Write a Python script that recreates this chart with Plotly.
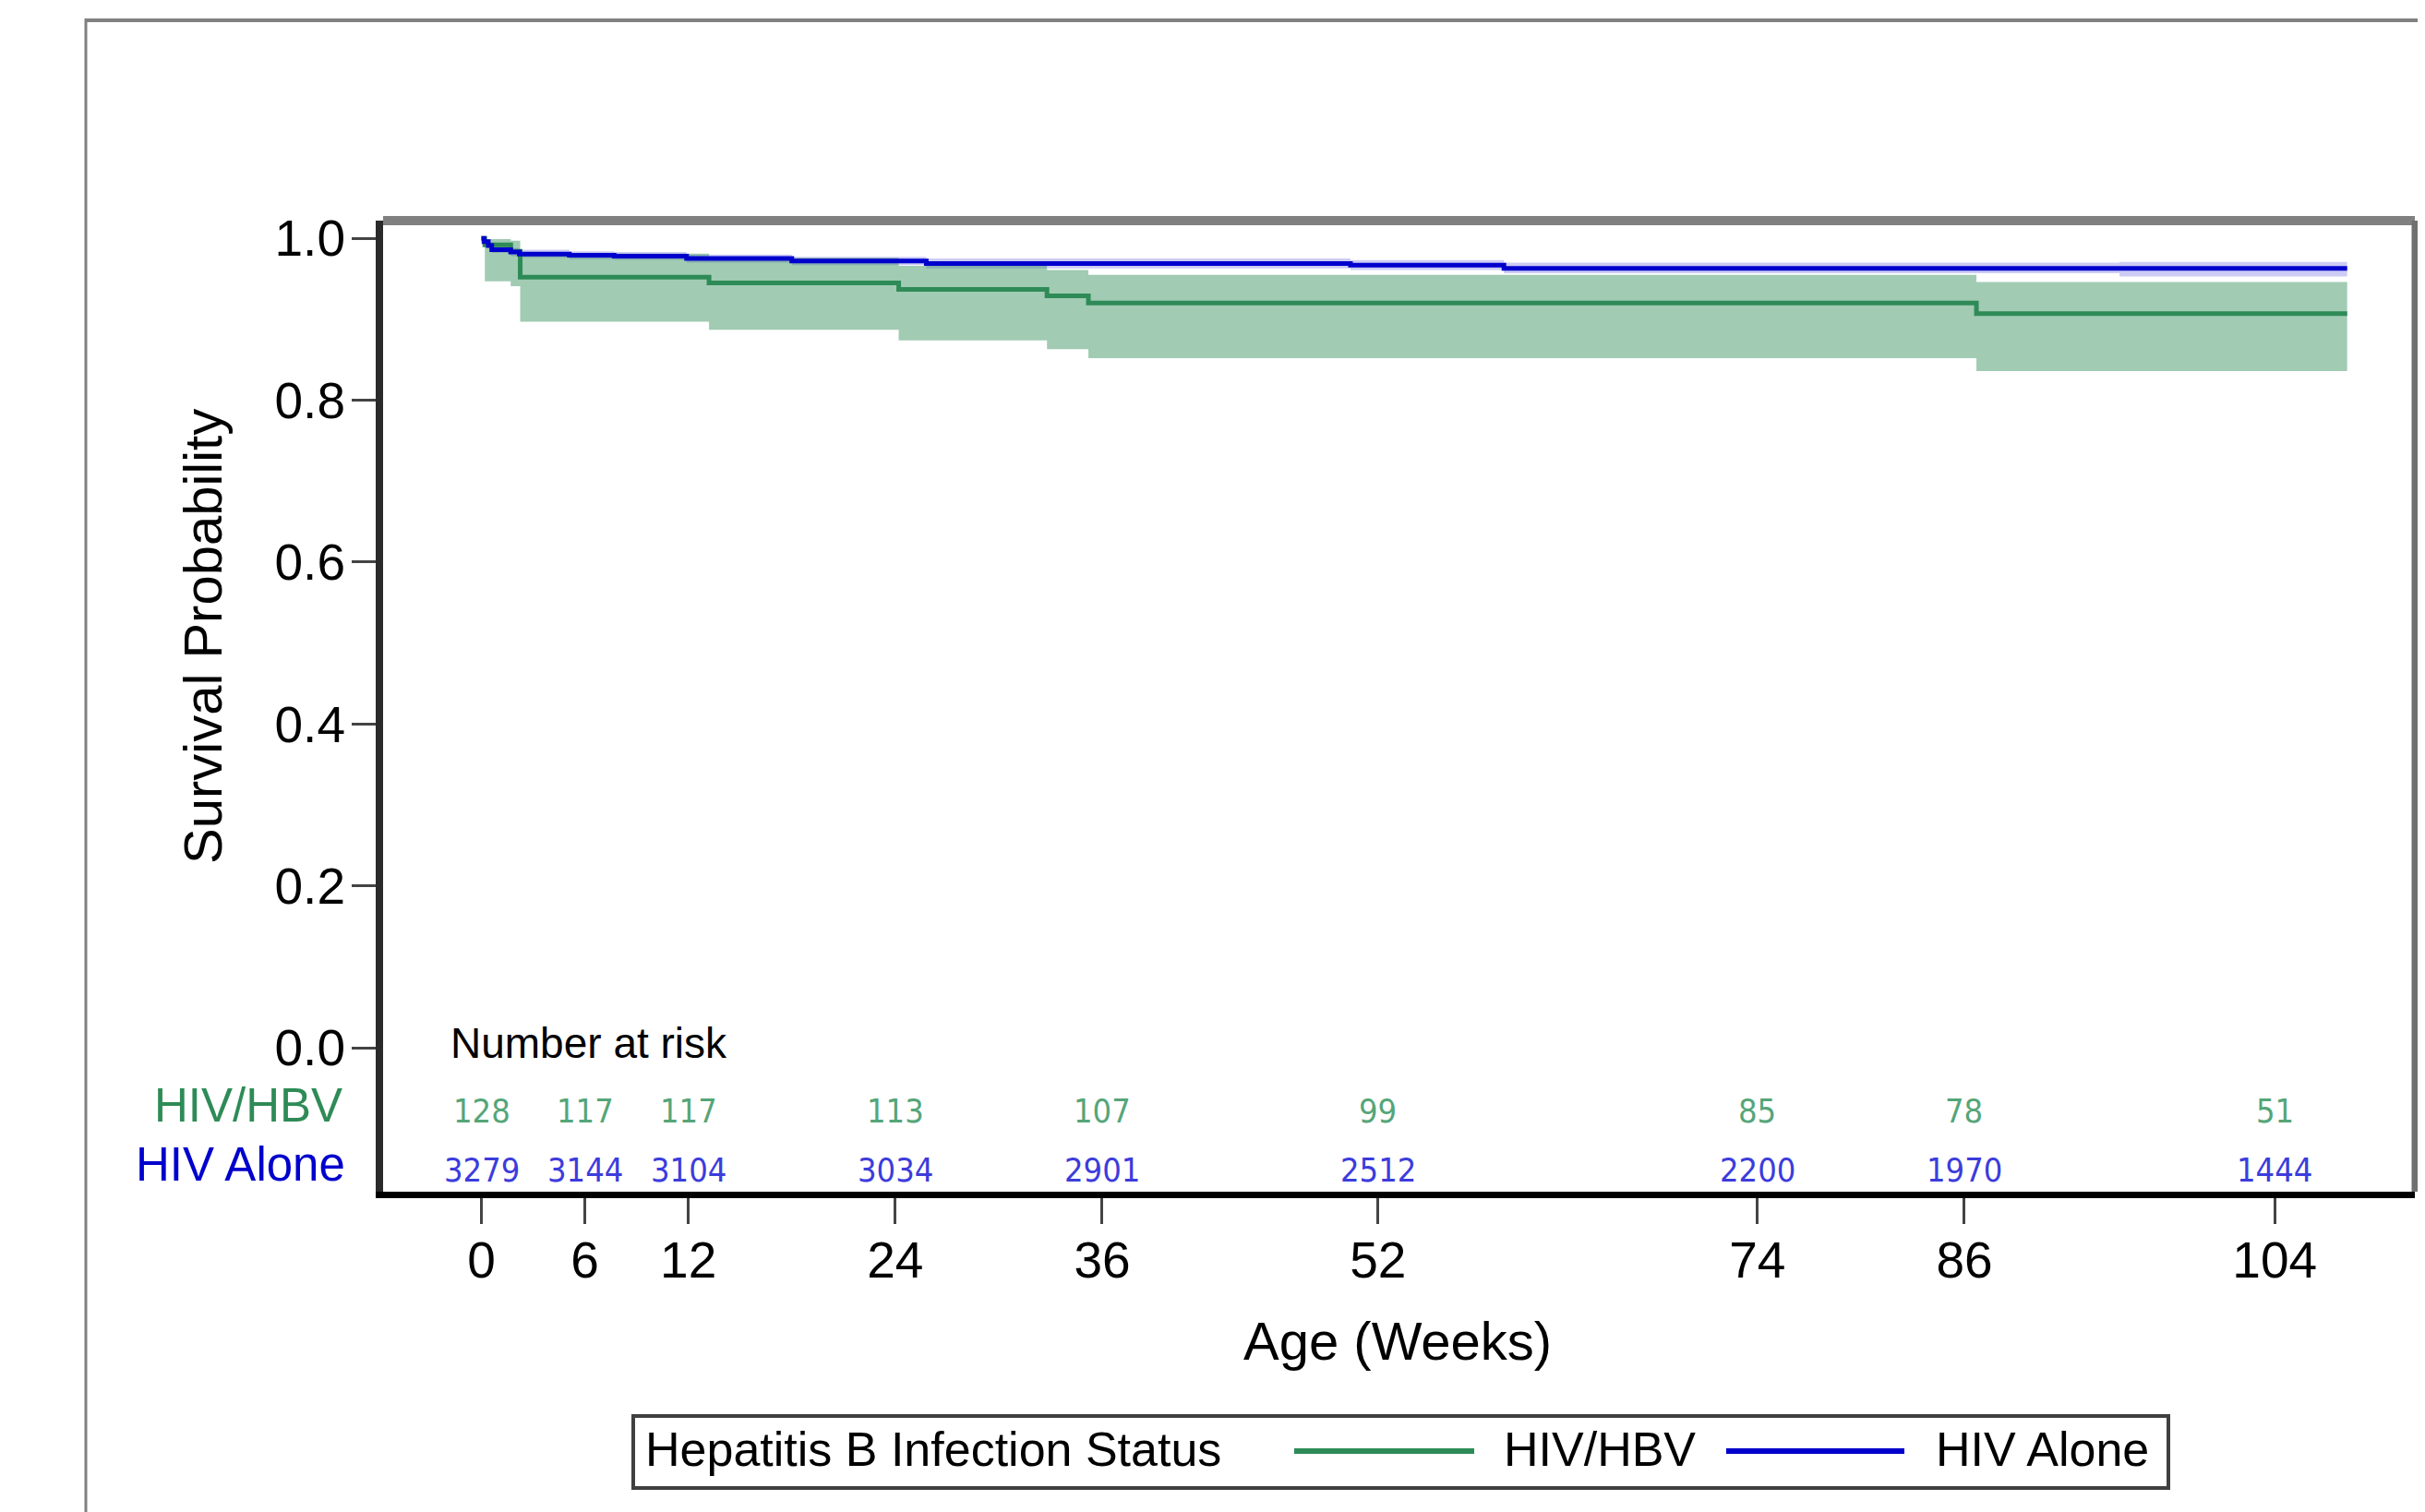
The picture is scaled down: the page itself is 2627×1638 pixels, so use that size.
import plotly.graph_objects as go

# ---------------- data ----------------
time_hbv = [0, 0.2, 1.7, 2.25, 13.2, 24.2, 32.8, 35.2, 86.7, 108.2]
surv_hbv = [1.0, 0.992, 0.984, 0.952, 0.945, 0.937, 0.929, 0.920, 0.907, 0.907]
lcl_hbv = [1.0, 0.947, 0.941, 0.897, 0.887, 0.874, 0.863, 0.852, 0.836, 0.836]
ucl_hbv = [1.0, 0.999, 0.997, 0.981, 0.976, 0.966, 0.961, 0.955, 0.946, 0.946]

time_alone = [0, 0.15, 0.4, 0.6, 1.7, 2.2, 5.1, 7.7, 11.9, 18.0, 25.8, 50.4, 59.3, 75.0, 95.0, 108.2]
surv_alone = [1.0, 0.996, 0.991, 0.986, 0.983, 0.9805, 0.979, 0.978, 0.975, 0.972, 0.969, 0.967, 0.963, 0.963, 0.963, 0.963]
ucl_alone = [1.0, 0.998, 0.994, 0.990, 0.988, 0.986, 0.984, 0.983, 0.980, 0.977, 0.975, 0.973, 0.970, 0.970, 0.971, 0.971]
lcl_alone = [1.0, 0.994, 0.988, 0.982, 0.978, 0.976, 0.974, 0.973, 0.970, 0.967, 0.963, 0.961, 0.957, 0.957, 0.953, 0.953]

risk_times = [0, 6, 12, 24, 36, 52, 74, 86, 104]
risk_hbv = [128, 117, 117, 113, 107, 99, 85, 78, 51]
risk_alone = [3279, 3144, 3104, 3034, 2901, 2512, 2200, 1970, 1444]

x_ticks = [0, 6, 12, 24, 36, 52, 74, 86, 104]
y_ticks = [0.0, 0.2, 0.4, 0.6, 0.8, 1.0]

group_names = ["HIV/HBV", "HIV Alone"]
legend_title = "Hepatitis B Infection Status"

# ---------------- style ----------------
W, H = 2627, 1638          # page size
OFF = 8                    # default body margin of the html page
ML, MR, MT, MB = 415, 11, 239, 347   # plot area edges, page coordinates
PW = W - ML - MR
PH = H - MT - MB

GREEN = "rgb(46,139,87)"
GREEN_FILL = "rgba(46,139,87,0.45)"
BLUE = "rgb(0,0,205)"
BLUE_FILL = "rgba(0,0,205,0.2)"
GREEN_TXT = "rgb(85,165,120)"
BLUE_TXT = "rgb(60,60,220)"
FONT = "Liberation Sans, Arial, sans-serif"
NARROW = "Liberation Sans Narrow, Arial Narrow, DejaVu Sans Condensed, Liberation Sans, sans-serif"


def px(x):
    return (x - ML) / PW


def py(y):
    return (H - MB - y) / PH


fig = go.Figure()

# HIV Alone CI band
fig.add_trace(go.Scatter(x=time_alone, y=ucl_alone, mode="lines", line=dict(width=0, shape="hv"),
                         hoverinfo="skip", showlegend=False))
fig.add_trace(go.Scatter(x=time_alone, y=lcl_alone, mode="lines", line=dict(width=0, shape="hv"),
                         fill="tonexty", fillcolor=BLUE_FILL, hoverinfo="skip", showlegend=False))
# HIV/HBV CI band
fig.add_trace(go.Scatter(x=time_hbv, y=ucl_hbv, mode="lines", line=dict(width=0, shape="hv"),
                         hoverinfo="skip", showlegend=False))
fig.add_trace(go.Scatter(x=time_hbv, y=lcl_hbv, mode="lines", line=dict(width=0, shape="hv"),
                         fill="tonexty", fillcolor=GREEN_FILL, hoverinfo="skip", showlegend=False))
# survival curves
fig.add_trace(go.Scatter(x=time_hbv, y=surv_hbv, mode="lines", name=group_names[0],
                         line=dict(color=GREEN, width=5, shape="hv"), showlegend=False))
fig.add_trace(go.Scatter(x=time_alone, y=surv_alone, mode="lines", name=group_names[1],
                         line=dict(color=BLUE, width=5, shape="hv"), showlegend=False))

x0_val, px_per_wk = 521.5, 18.68
y0_px, px_per_unit = 1135.0, 876.8
x_range = [(ML - x0_val) / px_per_wk, (W - MR - x0_val) / px_per_wk]
y_range = [-(H - MB - y0_px) / px_per_unit, (y0_px - MT) / px_per_unit]

annotations = []
# number at risk
annotations.append(dict(x=(486 - x0_val) / px_per_wk, y=(y0_px - 1130) / px_per_unit, xref="x", yref="y",
                        text="Number at risk", showarrow=False, xanchor="left", yanchor="middle",
                        font=dict(family=FONT, size=46, color="black")))
y_hbv_row = (y0_px - 1203) / px_per_unit
y_alone_row = (y0_px - 1267) / px_per_unit
for t, n in zip(risk_times, risk_hbv):
    annotations.append(dict(x=t, y=y_hbv_row, xref="x", yref="y", text=str(n), showarrow=False,
                            xanchor="center", yanchor="middle",
                            font=dict(family=NARROW, size=36, color=GREEN_TXT)))
for t, n in zip(risk_times, risk_alone):
    annotations.append(dict(x=t, y=y_alone_row, xref="x", yref="y", text=str(n), showarrow=False,
                            xanchor="center", yanchor="middle",
                            font=dict(family=NARROW, size=36, color=BLUE_TXT)))
annotations.append(dict(x=px(373), y=(y0_px - 1197) / px_per_unit, xref="paper", yref="y",
                        text=group_names[0], showarrow=False, xanchor="right", yanchor="middle",
                        font=dict(family=FONT, size=51, color=GREEN)))
annotations.append(dict(x=px(376), y=(y0_px - 1261) / px_per_unit, xref="paper", yref="y",
                        text=group_names[1], showarrow=False, xanchor="right", yanchor="middle",
                        font=dict(family=FONT, size=51, color=BLUE)))
# axis titles
annotations.append(dict(x=px(1514), y=py(1452), xref="paper", yref="paper", text="Age (Weeks)",
                        showarrow=False, xanchor="center", yanchor="middle",
                        font=dict(family=FONT, size=58, color="black")))
annotations.append(dict(x=px(219), y=py(690), xref="paper", yref="paper", text="Survival Probability",
                        showarrow=False, xanchor="center", yanchor="middle", textangle=-90,
                        font=dict(family=FONT, size=58, color="black")))
# legend texts
annotations.append(dict(x=px(697), y=py(1570), xref="paper", yref="paper", text=legend_title,
                        showarrow=False, xanchor="left", yanchor="middle",
                        font=dict(family=FONT, size=52, color="black")))
annotations.append(dict(x=px(1627), y=py(1570), xref="paper", yref="paper", text=group_names[0],
                        showarrow=False, xanchor="left", yanchor="middle",
                        font=dict(family=FONT, size=52, color="black")))
annotations.append(dict(x=px(2095), y=py(1570), xref="paper", yref="paper", text=group_names[1],
                        showarrow=False, xanchor="left", yanchor="middle",
                        font=dict(family=FONT, size=52, color="black")))

shapes = [
    # outer frame
    dict(type="line", xref="paper", yref="paper", x0=px(93), x1=px(W + 5), y0=py(22), y1=py(22),
         line=dict(color="#808080", width=4)),
    dict(type="line", xref="paper", yref="paper", x0=px(93), x1=px(93), y0=py(20), y1=py(H + 5),
         line=dict(color="#808080", width=3)),
    # plot frame top / right
    dict(type="line", xref="paper", yref="paper", x0=0, x1=1, y0=1, y1=1,
         line=dict(color="#808080", width=10)),
    dict(type="line", xref="paper", yref="paper", x0=1, x1=1, y0=0, y1=1,
         line=dict(color="#707070", width=7)),
    # legend box
    dict(type="rect", xref="paper", yref="paper", x0=px(686), x1=px(2349), y0=py(1534), y1=py(1612),
         line=dict(color="#404040", width=4), fillcolor="white"),
    dict(type="line", xref="paper", yref="paper", x0=px(1402), x1=px(1597), y0=py(1572), y1=py(1572),
         line=dict(color=GREEN, width=6)),
    dict(type="line", xref="paper", yref="paper", x0=px(1870), x1=px(2063), y0=py(1572), y1=py(1572),
         line=dict(color=BLUE, width=6)),
]

fig.update_layout(
    width=W - OFF, height=H - OFF,
    margin=dict(l=ML - OFF, r=MR, t=MT - OFF, b=MB, pad=0),
    paper_bgcolor="white", plot_bgcolor="white",
    showlegend=False,
    annotations=annotations,
    shapes=shapes,
    xaxis=dict(range=x_range, tickmode="array", tickvals=x_ticks, ticktext=[str(v) for v in x_ticks],
               showgrid=False, zeroline=False, showline=True, linecolor="black", linewidth=7,
               ticks="outside", ticklen=28, tickwidth=3, tickcolor="#444444",
               ticklabelstandoff=-8,
               tickfont=dict(family=FONT, size=55, color="black")),
    yaxis=dict(range=y_range, tickmode="array", tickvals=y_ticks, ticktext=[f"{v:.1f}" for v in y_ticks],
               showgrid=False, zeroline=False, showline=True, linecolor="#2a2a2a", linewidth=8,
               ticks="outside", ticklen=26, tickwidth=3, tickcolor="#444444",
               ticklabelstandoff=-4,
               tickfont=dict(family=FONT, size=55, color="black")),
)

fig.write_html("out.html")
